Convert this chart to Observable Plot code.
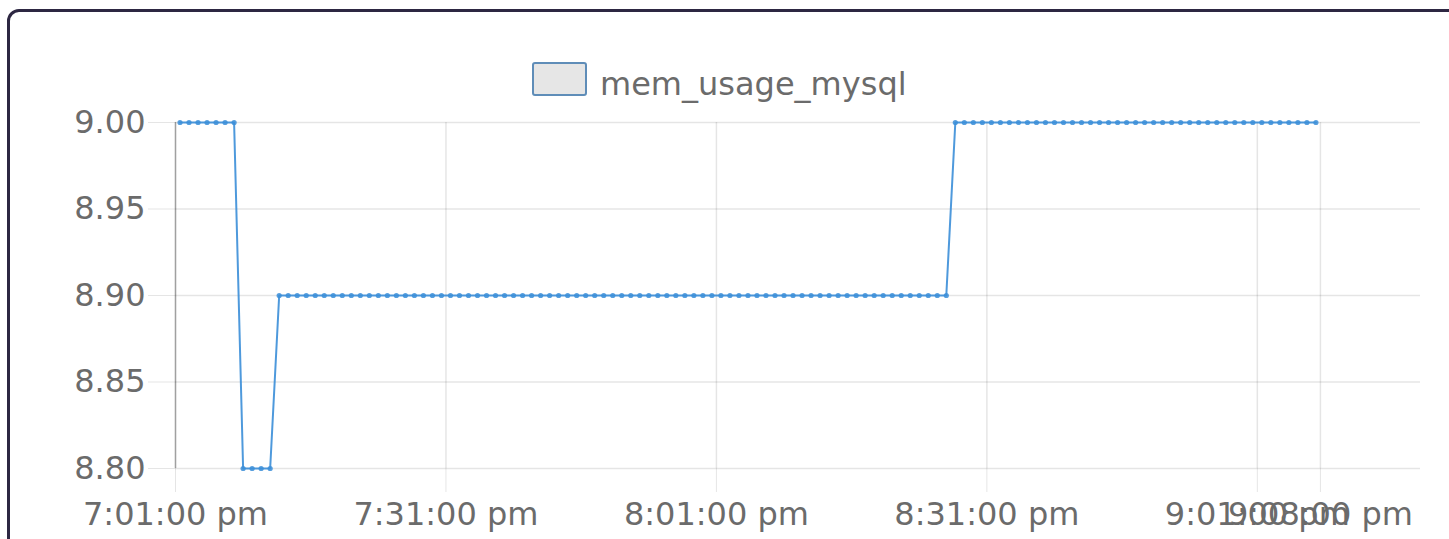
<!DOCTYPE html>
<html><head><meta charset="utf-8">
<script src="https://cdn.jsdelivr.net/npm/d3@7"></script>
<script src="https://cdn.jsdelivr.net/npm/@observablehq/plot@0.6"></script>
<style>
html,body{margin:0;padding:0;background:#fff;overflow:hidden;width:1449px;height:539px;}
#card{position:absolute;left:7px;top:9px;width:1500px;height:600px;border:3px solid #2d2742;border-radius:12px;box-sizing:border-box;}
#chart{position:absolute;left:0;top:0;width:1449px;}
#legend{height:105px;position:relative;font-family:"DejaVu Sans";font-size:32px;color:#6b6b6b;}
#legend .sw{position:absolute;left:532px;top:62px;width:55px;height:34px;box-sizing:border-box;border:2px solid #5f8db8;background:#e6e6e6;border-radius:3px;}
#legend .lab{position:absolute;left:600px;top:68px;line-height:32px;white-space:nowrap;}
#chart svg{display:block;}
</style></head>
<body>
<div id="card"></div>
<div id="chart">
  <div id="legend"><div class="sw"></div><div class="lab" id="seriesName"></div></div>
</div>
<script>
const seriesName = "mem_usage_mysql";

// sample times (h:m:s, evening)
const times = (
 "19:01:30 19:02:30 19:03:30 19:04:30 19:05:30 19:06:30 19:07:30 " +
 "19:08:30 19:09:30 19:10:30 19:11:30 " +
 "19:12:30 19:13:30 19:14:30 19:15:30 19:16:30 19:17:30 19:18:30 19:19:30 19:20:30 19:21:30 19:22:30 19:23:30 " +
 "19:24:30 19:25:30 19:26:30 19:27:30 19:28:30 19:29:30 19:30:30 19:31:30 19:32:30 19:33:30 19:34:30 19:35:30 " +
 "19:36:30 19:37:30 19:38:30 19:39:30 19:40:30 19:41:30 19:42:30 19:43:30 19:44:30 19:45:30 19:46:30 19:47:30 " +
 "19:48:30 19:49:30 19:50:30 19:51:30 19:52:30 19:53:30 19:54:30 19:55:30 19:56:30 19:57:30 19:58:30 19:59:30 " +
 "20:00:30 20:01:30 20:02:30 20:03:30 20:04:30 20:05:30 20:06:30 20:07:30 20:08:30 20:09:30 20:10:30 20:11:30 " +
 "20:12:30 20:13:30 20:14:30 20:15:30 20:16:30 20:17:30 20:18:30 20:19:30 20:20:30 20:21:30 20:22:30 20:23:30 " +
 "20:24:30 20:25:30 20:26:30 " +
 "20:27:30 20:28:30 20:29:30 20:30:30 20:31:30 20:32:30 20:33:30 20:34:30 20:35:30 20:36:30 20:37:30 20:38:30 " +
 "20:39:30 20:40:30 20:41:30 20:42:30 20:43:30 20:44:30 20:45:30 20:46:30 20:47:30 20:48:30 20:49:30 20:50:30 " +
 "20:51:30 20:52:30 20:53:30 20:54:30 20:55:30 20:56:30 20:57:30 20:58:30 20:59:30 " +
 "21:00:30 21:01:30 21:02:30 21:03:30 21:04:30 21:05:30 21:06:30 21:07:30"
).split(" ");

const values = [
 9.00, 9.00, 9.00, 9.00, 9.00, 9.00, 9.00,
 8.80, 8.80, 8.80, 8.80,
 8.90, 8.90, 8.90, 8.90, 8.90, 8.90, 8.90, 8.90, 8.90, 8.90, 8.90, 8.90,
 8.90, 8.90, 8.90, 8.90, 8.90, 8.90, 8.90, 8.90, 8.90, 8.90, 8.90, 8.90,
 8.90, 8.90, 8.90, 8.90, 8.90, 8.90, 8.90, 8.90, 8.90, 8.90, 8.90, 8.90,
 8.90, 8.90, 8.90, 8.90, 8.90, 8.90, 8.90, 8.90, 8.90, 8.90, 8.90, 8.90,
 8.90, 8.90, 8.90, 8.90, 8.90, 8.90, 8.90, 8.90, 8.90, 8.90, 8.90, 8.90,
 8.90, 8.90, 8.90, 8.90, 8.90, 8.90, 8.90, 8.90, 8.90, 8.90, 8.90, 8.90,
 8.90, 8.90, 8.90,
 9.00, 9.00, 9.00, 9.00, 9.00, 9.00, 9.00, 9.00, 9.00, 9.00, 9.00, 9.00,
 9.00, 9.00, 9.00, 9.00, 9.00, 9.00, 9.00, 9.00, 9.00, 9.00, 9.00, 9.00,
 9.00, 9.00, 9.00, 9.00, 9.00, 9.00, 9.00, 9.00, 9.00,
 9.00, 9.00, 9.00, 9.00, 9.00, 9.00, 9.00, 9.00
];

const xTickLabels = ["19:01:00","19:31:00","20:01:00","20:31:00","21:01:00","21:08:00"];
const xDomainEnds = ["19:01:00","21:19:06"];
const yTicks = [8.80, 8.85, 8.90, 8.95, 9.00];
const yDomain = [8.80, 9.00];

const parse = d3.timeParse("%H:%M:%S");
const fmt = d3.timeFormat("%-I:%M:%S %p");
const data = times.map((t, i) => ({t: parse(t), v: values[i]}));
const xTicks = xTickLabels.map(parse);

document.getElementById("seriesName").textContent = seriesName;

const lineColor = "#3b8ed8";
const chart = Plot.plot({
  width: 1449,
  height: 434,
  marginTop: 17,
  marginBottom: 71,
  marginLeft: 175,
  marginRight: 29,
  style: {fontFamily: "DejaVu Sans", fontSize: "32px", color: "#6b6b6b", background: "transparent", overflow: "visible"},
  x: {type: "time", domain: xDomainEnds.map(parse)},
  y: {domain: yDomain},
  marks: [
    Plot.gridY(yTicks, {stroke: "#000", strokeOpacity: 0.1, strokeWidth: 1.5}),
    Plot.gridX(xTicks, {stroke: "#000", strokeOpacity: 0.1, strokeWidth: 1.5}),
    Plot.axisY(yTicks, {tickSize: 27, tickPadding: 3, tickFormat: d3.format(".2f"), stroke: "#000", strokeOpacity: 0.1, fill: "#6b6b6b", label: null}),
    Plot.axisX(xTicks, {tickSize: 24, tickPadding: 10, tickFormat: d => fmt(d).toLowerCase(), stroke: "#000", strokeOpacity: 0.1, fill: "#6b6b6b", label: null}),
    Plot.ruleX([parse(xDomainEnds[0])], {stroke: "#000", strokeOpacity: 0.3, strokeWidth: 1.5}),
    Plot.line(data, {x: "t", y: "v", stroke: lineColor, strokeWidth: 2, strokeOpacity: 0.9}),
    Plot.dot(data, {x: "t", y: "v", r: 2.6, fill: lineColor, fillOpacity: 0.85, stroke: "none"})
  ]
});
document.getElementById("chart").appendChild(chart);
</script>
</body></html>
